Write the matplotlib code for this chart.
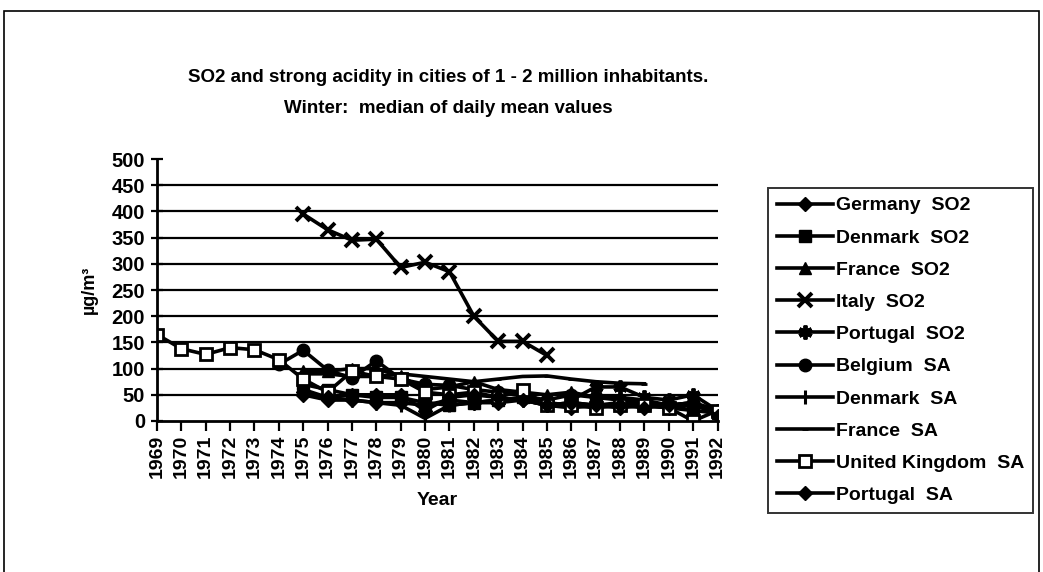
import numpy as np
import matplotlib
matplotlib.use('Agg')
import matplotlib.pyplot as plt
from matplotlib.patches import Rectangle

plt.rcParams['font.family'] = ['Liberation Sans', 'DejaVu Sans']
plt.rcParams['font.weight'] = 'bold'

years = list(range(1969, 1993))

# series values, each starting at its own first year
germany_so2 = [50, 40, 40, 35, 35, 30, 40, 35, 35, 40, 30, 25, 30, 25, 30, 25, 30, 20]
denmark_so2 = [70, 60, 50, 45, 45, 35, 30, 35, 40, 45, 35, 30, 30, 30, 30, 25, 20, 15]
france_so2 = [95, 95, 100, 100, 85, 60, 65, 75, 60, 55, 50, 55, 45, 45, 40, 30, 35, 20]
italy_so2 = [395, 365, 345, 347, 293, 303, 285, 200, 152, 152, 125]
portugal_so2 = [40, 65, 65, 45, 40, 50, 20]
belgium_sa = [108, 135, 97, 82, 115, 80, 70, 68, 60, 55, 48, 40, 50, 45, 40, 35, 30, 35, 20]
denmark_sa = [60, 45, 40, 35, 30, 5, 30, 35, 40, 40, 30, 35, 30, 35, 30, 30, 30, 15]
france_sa = [90, 90, 85, 85, 90, 85, 80, 75, 80, 85, 86, 80, 75, 72, 71]
uk_sa = [165, 138, 127, 140, 136, 117, 80, 55, 95, 85, 80, 55, 50, 55, 45, 60,
         30, 30, 25, 30, 30, 25, 0, 20]
portugal_sa = [55, 45, 50, 50, 50, 20, 45, 50, 45, 40, 30, 35, 30, 30, 25, 30, 35, 10]

series = [
    ('Germany  SO2', 1975, germany_so2, dict(marker='D', ms=7)),
    ('Denmark  SO2', 1975, denmark_so2, dict(marker='s', ms=8)),
    ('France  SO2', 1975, france_so2, dict(marker='^', ms=8)),
    ('Italy  SO2', 1975, italy_so2, dict(marker='x', ms=10, mew=2.8)),
    ('Portugal  SO2', 1986, portugal_so2, dict(marker=(6, 2, 0), ms=10, mew=2.8)),
    ('Belgium  SA', 1974, belgium_sa, dict(marker='o', ms=9)),
    ('Denmark  SA', 1975, denmark_sa, dict(marker='|', ms=10, mew=2.2)),
    ('France  SA', 1975, france_sa, dict(marker='_', ms=4, mew=2)),
    ('United Kingdom  SA', 1969, uk_sa, dict(marker='s', ms=8, mfc='white', mew=2)),
    ('Portugal  SA', 1975, portugal_sa, dict(marker='D', ms=7)),
]

fig = plt.figure(figsize=(10.43, 5.72), dpi=100)
ax = fig.add_axes([0.1505, 0.264, 0.5375, 0.458])

for label, start, vals, style in series:
    x = np.arange(start, start + len(vals))
    ax.plot(x, vals, color='black', lw=2.6, mec='black', label=label,
            **({'mfc': 'black'} | style))

ax.set_xlim(1969, 1992)
ax.set_ylim(0, 500)
ax.set_yticks(range(0, 501, 50))
ax.set_xticks(years)
ax.set_xticklabels([str(y) for y in years], rotation=90, fontsize=14, fontweight='bold')
ax.tick_params(axis='y', labelsize=14.5, direction='inout', length=9, width=1.6, pad=4)
ax.tick_params(axis='x', direction='out', length=7, width=1.6, pad=3)
for v in range(50, 451, 50):
    ax.axhline(v, color='black', lw=1.6, zorder=0)
ax.spines['top'].set_visible(False)
ax.spines['right'].set_visible(False)
ax.spines['left'].set_linewidth(2)
ax.spines['bottom'].set_linewidth(2)
ax.set_xlabel('Year', fontsize=14, fontweight='bold', labelpad=10)
ax.set_ylabel('µg/m³', fontsize=13, fontweight='bold', labelpad=10)

fig.text(0.43, 0.865, 'SO2 and strong acidity in cities of 1 - 2 million inhabitants.',
         ha='center', va='center', fontsize=13.5, fontweight='bold')
fig.text(0.43, 0.81, 'Winter:  median of daily mean values',
         ha='center', va='center', fontsize=13.5, fontweight='bold')

leg = fig.legend(loc='upper left', bbox_to_anchor=(0.7363, 0.6713), borderaxespad=0,
                 fontsize=14, frameon=True, fancybox=False, edgecolor='black',
                 handlelength=2.9, labelspacing=0.75, borderpad=0.45, handletextpad=0.15)
leg.get_frame().set_linewidth(1.4)

fig.patches.append(Rectangle((0.004, -0.01), 0.992, 0.99, transform=fig.transFigure,
                             fill=False, edgecolor='black', lw=1.2))

fig.savefig('out.png', dpi=100)
